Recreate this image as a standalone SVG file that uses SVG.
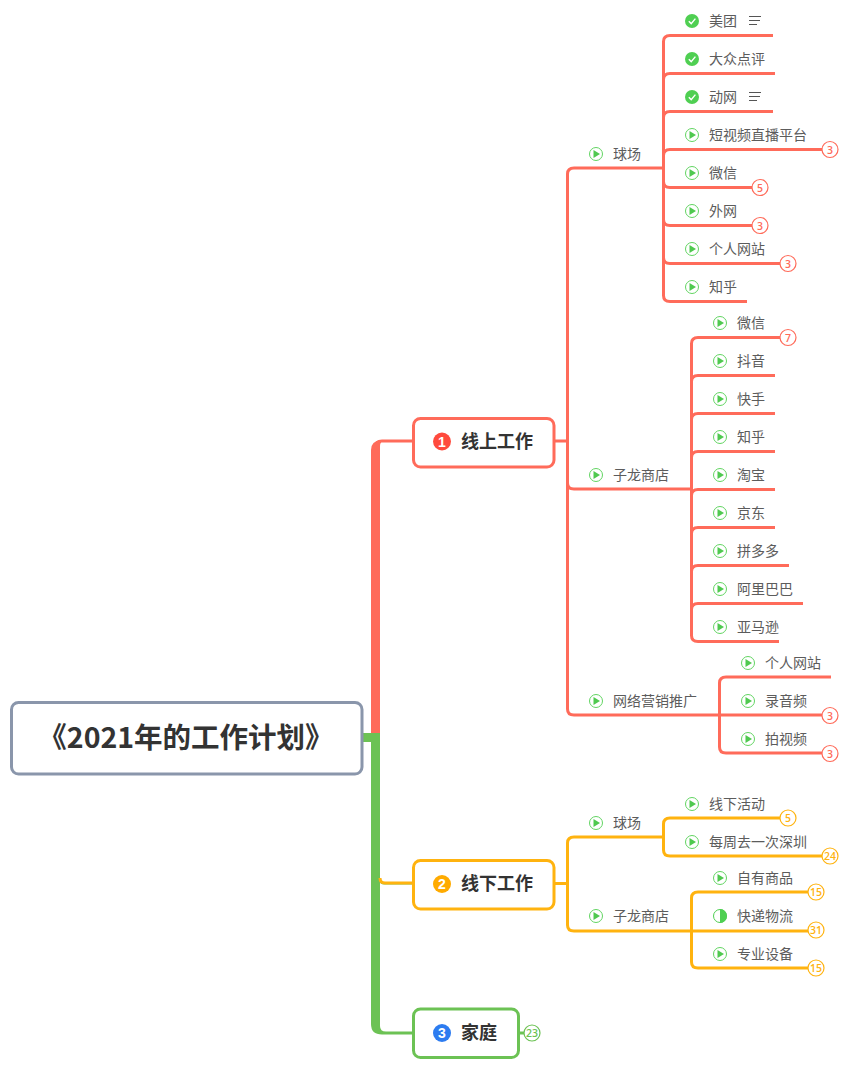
<svg xmlns="http://www.w3.org/2000/svg" width="848" height="1068" viewBox="0 0 848 1068">
<style>
text{font-family:"Noto Sans CJK SC","Noto Sans",sans-serif}
.t{font-size:14px;fill:#5c5c5c}
.box{fill:#fff;stroke-width:3}
.topic{font-size:18px;font-weight:700;fill:#333}
.n{font-size:10.5px;font-weight:600;text-anchor:middle;font-family:"Open Sans",sans-serif}
.digit{font-size:14px;font-weight:700;fill:#fff;text-anchor:middle;font-family:"Liberation Sans",sans-serif}
.r{fill:none;stroke:#ff6b5a;stroke-width:3}
.y{fill:none;stroke:#ffb30f;stroke-width:3}
.g{fill:none;stroke:#6cc254;stroke-width:3}
.bd{fill:#fff;stroke-width:1.2}
</style>
<defs>
<g id="play"><circle r="6.5" fill="#fff" stroke="#62d562"/><path d="M-2.5-4L4 0L-2.5 4Z" fill="#4fc94f"/></g>
<g id="check"><circle r="7" fill="#4fcf52"/><path d="M-3.2 0.2L-0.8 2.6L3.4-2.4" fill="none" stroke="#fff" stroke-width="1.4"/></g>
<g id="half"><circle r="6.5" fill="#fff" stroke="#4fcf52"/><path d="M0-7A7 7 0 0 1 0 7Z" fill="#4fcf52"/></g>
<g id="note"><path d="M0 0H12M0 4H11M0 8H8" stroke="#555" fill="none"/></g>
<g id="br"><circle r="8" class="bd" stroke="#ff6b5a"/></g>
<g id="by"><circle r="8" class="bd" stroke="#ffb30f"/></g>
</defs>
<g id="connectors">
<path d="M375.5 735V447Q375.5 441 382 441H413" fill="none" stroke="#ff6b5a" stroke-width="3"/>
<path d="M371 735V450Q371 441 381 440V443Q380 443 380 447V735Z" fill="#ff6b5a"/>
<path d="M362 737.5H380" fill="none" stroke="#6cc254" stroke-width="9"/>
<path d="M371 733H380V878Q380 883 385 883H413V884.5H384Q380 884.5 380 881V1026Q380 1031.500 386 1031.500H413V1034.500H382Q371 1034.500 371 1024Z" fill="#6cc254"/>
<path class="y" d="M380 878Q380 883 385 883H413"/>
<path class="r" d="M554 441H567M567.5 441V174Q567.5 168 574 168H663.500M567.5 441V483Q567.5 489 574 489H691.500M567.5 441V709Q567.5 715 574 715H822"/>
<path class="r" d="M663.5 168V41.500Q663.5 35.500 670 35.500H773M663.5 168V79.500Q663.5 73.500 670 73.500H775M663.5 168V117.500Q663.5 111.500 670 111.500H773M663.5 168V155.500Q663.5 149.500 670 149.500H822M663.5 168V181.500Q663.5 187.500 670 187.500H752M663.5 168V219.500Q663.5 225.500 670 225.500H752M663.5 168V257.500Q663.5 263.500 670 263.500H780M663.5 168V295.500Q663.5 301.500 670 301.500H747"/>
<path class="r" d="M691.5 489V343.500Q691.5 337.500 698 337.500H780M691.5 489V381.500Q691.5 375.500 698 375.500H775M691.5 489V419.500Q691.5 413.500 698 413.500H775M691.5 489V457.500Q691.5 451.500 698 451.500H775M691.5 489V495.500Q691.5 489.500 698 489.500H775M691.5 489V533.500Q691.5 527.500 698 527.500H775M691.5 489V571.500Q691.5 565.500 698 565.500H789M691.5 489V609.500Q691.5 603.500 698 603.500H803M691.5 489V635.500Q691.5 641.500 698 641.500H779"/>
<path class="r" d="M719.5 715V683Q719.5 677 726 677H831M719.5 715V747Q719.5 753 726 753H822"/>
<path class="y" d="M554 883.5H567M567.5 883.5V843Q567.5 837 574 837H663.500M567.5 883.5V925Q567.5 931 574 931H808"/>
<path class="y" d="M663.5 837V824Q663.5 818 670 818H780M663.5 837V850Q663.5 856 670 856H822"/>
<path class="y" d="M691.5 931V898Q691.5 892 698 892H808M691.5 931V962Q691.5 968 698 968H808"/>
<path class="g" d="M518 1033H525"/>
</g>
<g id="root"><rect class="box" x="11.5" y="702.5" width="350.5" height="71.5" rx="7" stroke="#8a96ab"/><text x="186" y="748" font-size="28.5" font-weight="700" fill="#333" text-anchor="middle">《2021年的工作计划》</text></g>
<g id="topic1"><rect class="box" x="413.5" y="418.5" width="140.5" height="48.5" rx="7" stroke="#ff6b5a"/><circle cx="442" cy="441.5" r="9" fill="#ff4a3d"/><text class="digit" x="442" y="446.5">1</text><text class="topic" x="461" y="448">线上工作</text></g>
<g id="topic2"><rect class="box" x="413.5" y="860.5" width="140.5" height="48.5" rx="7" stroke="#ffb30f"/><circle cx="442" cy="884" r="9" fill="#ffab00"/><text class="digit" x="442" y="889">2</text><text class="topic" x="461" y="890">线下工作</text></g>
<g id="topic3"><rect class="box" x="413.5" y="1009" width="105" height="48.5" rx="7" stroke="#6cc254"/><circle cx="442" cy="1033" r="9" fill="#2d7cf0"/><text class="digit" x="442" y="1038">3</text><text class="topic" x="461" y="1039">家庭</text></g>
<g id="badge-family"><circle cx="532" cy="1033" r="8" class="bd" stroke="#6cc254"/><text class="n" x="532" y="1037" fill="#6cc254">23</text></g>

<g id="n-qiuchang1"><use href="#play" x="596" y="154"/><text class="t" x="613" y="158.500">球场</text></g>
<g id="n-meituan"><use href="#check" x="692" y="21"/><text class="t" x="709" y="25.500">美团</text><use href="#note" x="749" y="16.5"/></g>
<g id="n-dianping"><use href="#check" x="692" y="59"/><text class="t" x="709" y="63.500">大众点评</text></g>
<g id="n-dongwang"><use href="#check" x="692" y="97"/><text class="t" x="709" y="101.500">动网</text><use href="#note" x="749" y="92.5"/></g>
<g id="n-video"><use href="#play" x="692" y="135"/><text class="t" x="709" y="139.500">短视频直播平台</text><use href="#br" x="830" y="149.5"/><text class="n" x="830" y="153.500" fill="#ff6b5a">3</text></g>
<g id="n-wechat1"><use href="#play" x="692" y="173"/><text class="t" x="709" y="177.500">微信</text><use href="#br" x="760" y="187.5"/><text class="n" x="760" y="191.500" fill="#ff6b5a">5</text></g>
<g id="n-waiwang"><use href="#play" x="692" y="211"/><text class="t" x="709" y="215.500">外网</text><use href="#br" x="760" y="225.5"/><text class="n" x="760" y="229.500" fill="#ff6b5a">3</text></g>
<g id="n-site1"><use href="#play" x="692" y="249"/><text class="t" x="709" y="253.500">个人网站</text><use href="#br" x="788" y="263.5"/><text class="n" x="788" y="267.500" fill="#ff6b5a">3</text></g>
<g id="n-zhihu1"><use href="#play" x="692" y="287"/><text class="t" x="709" y="291.500">知乎</text></g>

<g id="n-store1"><use href="#play" x="596" y="475"/><text class="t" x="613" y="479.500">子龙商店</text></g>
<g id="n-wechat2"><use href="#play" x="720" y="323"/><text class="t" x="737" y="327.500">微信</text><use href="#br" x="788" y="337.5"/><text class="n" x="788" y="341.500" fill="#ff6b5a">7</text></g>
<g id="n-douyin"><use href="#play" x="720" y="361"/><text class="t" x="737" y="365.500">抖音</text></g>
<g id="n-kuaishou"><use href="#play" x="720" y="399"/><text class="t" x="737" y="403.500">快手</text></g>
<g id="n-zhihu2"><use href="#play" x="720" y="437"/><text class="t" x="737" y="441.500">知乎</text></g>
<g id="n-taobao"><use href="#play" x="720" y="475"/><text class="t" x="737" y="479.500">淘宝</text></g>
<g id="n-jd"><use href="#play" x="720" y="513"/><text class="t" x="737" y="517.500">京东</text></g>
<g id="n-pdd"><use href="#play" x="720" y="551"/><text class="t" x="737" y="555.500">拼多多</text></g>
<g id="n-ali"><use href="#play" x="720" y="589"/><text class="t" x="737" y="593.500">阿里巴巴</text></g>
<g id="n-amazon"><use href="#play" x="720" y="627"/><text class="t" x="737" y="631.500">亚马逊</text></g>

<g id="n-net"><use href="#play" x="596" y="701"/><text class="t" x="613" y="705.500">网络营销推广</text></g>
<g id="n-site2"><use href="#play" x="748" y="663"/><text class="t" x="765" y="667.500">个人网站</text></g>
<g id="n-audio"><use href="#play" x="748" y="701"/><text class="t" x="765" y="705.500">录音频</text><use href="#br" x="830" y="715.5"/><text class="n" x="830" y="719.500" fill="#ff6b5a">3</text></g>
<g id="n-shoot"><use href="#play" x="748" y="739"/><text class="t" x="765" y="743.500">拍视频</text><use href="#br" x="830" y="753.5"/><text class="n" x="830" y="757.500" fill="#ff6b5a">3</text></g>

<g id="n-qiuchang2"><use href="#play" x="596" y="823"/><text class="t" x="613" y="827.500">球场</text></g>
<g id="n-offline"><use href="#play" x="692" y="804"/><text class="t" x="709" y="808.500">线下活动</text><use href="#by" x="788" y="818"/><text class="n" x="788" y="822" fill="#ffb30f">5</text></g>
<g id="n-weekly"><use href="#play" x="692" y="842"/><text class="t" x="709" y="846.500">每周去一次深圳</text><use href="#by" x="830" y="856"/><text class="n" x="830" y="860" fill="#ffb30f">24</text></g>
<g id="n-store2"><use href="#play" x="596" y="916"/><text class="t" x="613" y="920.500">子龙商店</text></g>
<g id="n-goods"><use href="#play" x="720" y="878"/><text class="t" x="737" y="882.500">自有商品</text><use href="#by" x="816" y="892"/><text class="n" x="816" y="896" fill="#ffb30f">15</text></g>
<g id="n-express"><use href="#half" x="720" y="916"/><text class="t" x="737" y="920.500">快递物流</text><use href="#by" x="816" y="930"/><text class="n" x="816" y="934" fill="#ffb30f">31</text></g>
<g id="n-device"><use href="#play" x="720" y="954"/><text class="t" x="737" y="958.500">专业设备</text><use href="#by" x="816" y="968"/><text class="n" x="816" y="972" fill="#ffb30f">15</text></g>
</svg>
